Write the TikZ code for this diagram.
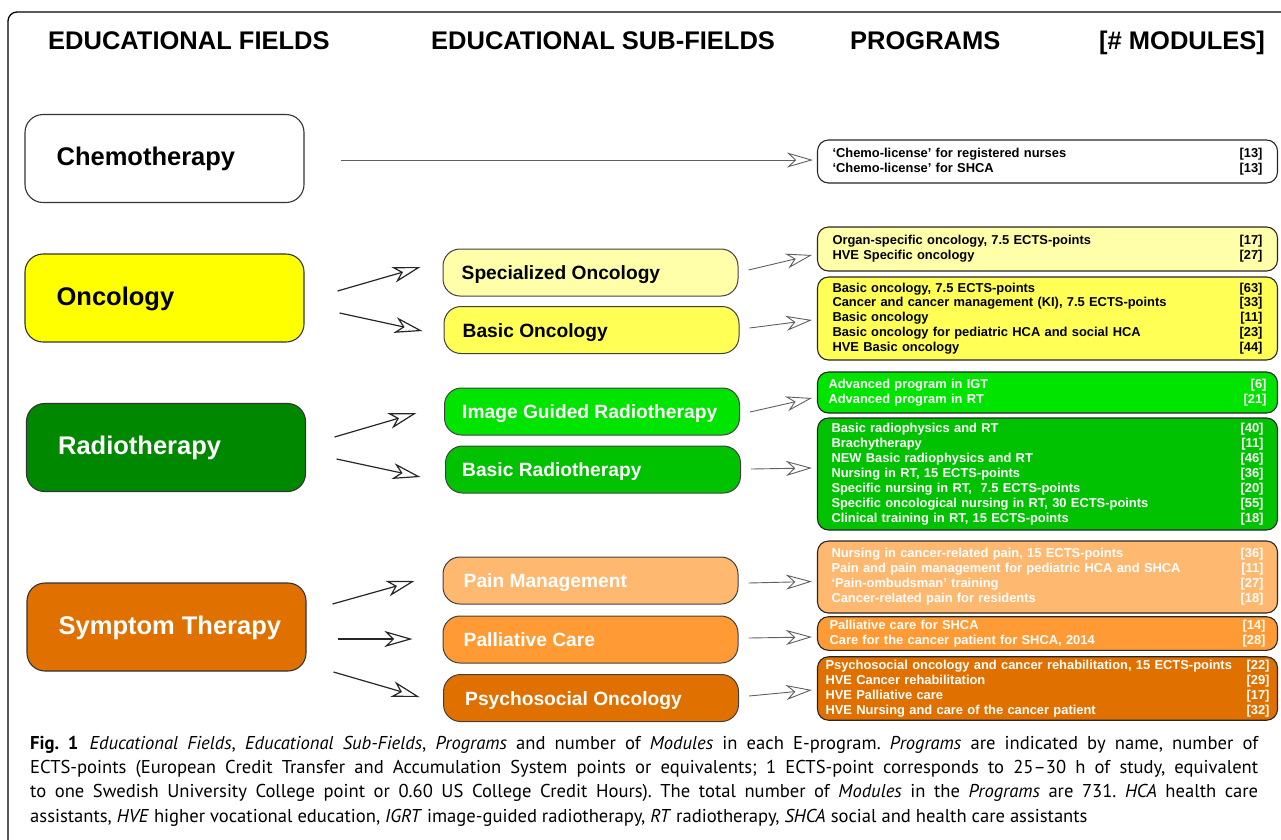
\documentclass[tikz,border=0pt]{standalone}
\usepackage{fontspec}
\setmainfont{Liberation Sans}
\newfontfamily\capfont{PT Sans}
\usetikzlibrary{arrows.meta,positioning}

\definecolor{oncyellow}{RGB}{255,255,0}
\definecolor{oncpale}{RGB}{255,255,170}
\definecolor{oncbasic}{RGB}{255,255,85}
\definecolor{rtdark}{RGB}{0,136,0}
\definecolor{rtbright}{RGB}{0,228,0}
\definecolor{rtbasic}{RGB}{0,194,0}
\definecolor{symorange}{RGB}{224,112,0}
\definecolor{painorange}{RGB}{255,184,112}
\definecolor{palliorange}{RGB}{255,154,52}
\definecolor{arrowgray}{RGB}{95,95,95}

\begin{document}
\begin{tikzpicture}[x=1pt, y=-1pt,
		fieldbox/.style={draw=black!80, line width=1.1pt, rounded corners=18pt, minimum width=279pt, minimum height=88pt},
		fieldtext/.style={anchor=base west, inner sep=0pt, font=\fontsize{25.5}{28}\selectfont\bfseries},
		subbox/.style={draw=black!75, line width=1pt, rounded corners=17pt, minimum width=295pt, minimum height=47pt},
		subtext/.style={anchor=base west, inner sep=0pt, font=\fontsize{19.2}{22}\selectfont\bfseries},
		progbox/.style={draw=black!85, line width=1.1pt, rounded corners=11pt, inner xsep=15pt, text width=430pt, align=left, font=\fontsize{12.9}{14.9}\selectfont\bfseries},
		heading/.style={anchor=base west, inner sep=0pt, font=\fontsize{25.5}{28}\selectfont\bfseries},
		fieldarrow/.style={draw=black!85, line width=1.2pt, -{Stealth[open, length=28pt, width=16pt, inset=8pt]}},
		progarrow/.style={draw=arrowgray, line width=0.9pt, -{Stealth[open, length=26pt, width=15pt, inset=8pt]}}]
		
		\useasboundingbox (0,0) rectangle (1281,839);
		
		% Rahmen der Abbildung
		\draw[line width=1.3pt, rounded corners=9pt] (8,850) -- (8,12) -- (1290,12);
		
		% Spaltenueberschriften
		\node[heading] (h-fields) at (48,49) {EDUCATIONAL FIELDS};
		\node[heading] (h-subfields) at (431,49) {EDUCATIONAL SUB-FIELDS};
		\node[heading] (h-programs) at (850,49) {PROGRAMS};
		\node[heading] (h-modules) at (1099,49) {[\# MODULES]};
		
		% Bildungsfelder (links)
		\node[fieldbox, fill=white] (chemo) at (164.5,158.5) {};
		\node[fieldbox, fill=oncyellow] (onc) at (164.5,298) {};
		\node[fieldbox, fill=rtdark] (rt) at (166,447.5) {};
		\node[fieldbox, fill=symorange] (sym) at (166.5,627) {};
		\node[fieldtext] (chemo-lbl) at ([shift={(32,7)}]chemo.west) {Chemotherapy};
		\node[fieldtext] (onc-lbl) at ([shift={(32,7)}]onc.west) {Oncology};
		\node[fieldtext, text=white] (rt-lbl) at ([shift={(32,7)}]rt.west) {Radiotherapy};
		\node[fieldtext, text=white] (sym-lbl) at ([shift={(32,7)}]sym.west) {Symptom Therapy};
		
		% Teilgebiete (Mitte)
		\node[subbox, fill=oncpale] (spec) at (590.5,272.5) {};
		\node[subbox, fill=oncbasic] (basonc) at (591.5,330) {};
		\node[subbox, fill=rtbright] (igrt) at (592,411.5) {};
		\node[subbox, fill=rtbasic] (basrt) at (593,469.5) {};
		\node[subbox, fill=painorange] (pain) at (590.5,580.5) {};
		\node[subbox, fill=palliorange] (palli) at (590.5,639.5) {};
		\node[subbox, fill=symorange] (psycho) at (591,698) {};
		\node[subtext] (spec-lbl) at ([shift={(19,7)}]spec.west) {Specialized Oncology};
		\node[subtext] (basonc-lbl) at ([shift={(19,7)}]basonc.west) {Basic Oncology};
		\node[subtext, text=white] (igrt-lbl) at ([shift={(18,7)}]igrt.west) {Image Guided Radiotherapy};
		\node[subtext, text=white] (basrt-lbl) at ([shift={(17,7)}]basrt.west) {Basic Radiotherapy};
		\node[subtext, text=white] (pain-lbl) at ([shift={(21,7)}]pain.west) {Pain Management};
		\node[subtext, text=white] (palli-lbl) at ([shift={(21,7)}]palli.west) {Palliative Care};
		\node[subtext, text=white] (psycho-lbl) at ([shift={(22,7)}]psycho.west) {Psychosocial Oncology};
		
		% Programme mit Anzahl Module (rechts)
		\node[progbox, fill=white, minimum height=43pt] (chemo-prog) at (1047.5,161.5)
		{‘Chemo-license’ for registered nurses\hfill[13]\\
			‘Chemo-license’ for SHCA\hfill[13]};
		\node[progbox, fill=oncpale, minimum height=44pt] (spec-prog) at (1047.5,249)
		{Organ-specific oncology, 7.5 ECTS-points\hfill[17]\\
			HVE Specific oncology\hfill[27]};
		\node[progbox, fill=oncbasic, minimum height=83pt] (basonc-prog) at (1047.5,318.5)
		{Basic oncology, 7.5 ECTS-points\hfill[63]\\
			Cancer and cancer management (KI), 7.5 ECTS-points\hfill[33]\\
			Basic oncology\hfill[11]\\
			Basic oncology for pediatric HCA and social HCA\hfill[23]\\
			HVE Basic oncology\hfill[44]};
		\node[progbox, fill=rtbright, text=white, minimum height=41pt, inner xsep=11pt, text width=438pt] (igrt-prog) at (1047.5,392.5)
		{Advanced program in IGT\hfill[6]\\
			Advanced program in RT\hfill[21]};
		\node[progbox, fill=rtbasic, text=white, minimum height=112pt, inner xsep=14pt, text width=432pt] (basrt-prog) at (1047.5,474)
		{Basic radiophysics and RT\hfill[40]\\
			Brachytherapy\hfill[11]\\
			NEW Basic radiophysics and RT\hfill[46]\\
			Nursing in RT, 15 ECTS-points\hfill[36]\\
			Specific nursing in RT, \ 7.5 ECTS-points\hfill[20]\\
			Specific oncological nursing in RT, 30 ECTS-points\hfill[55]\\
			Clinical training in RT, 15 ECTS-points\hfill[18]};
		\node[progbox, fill=painorange, text=white, minimum height=72pt, inner xsep=14pt, text width=432pt] (pain-prog) at (1047.5,577)
		{Nursing in cancer-related pain, 15 ECTS-points\hfill[36]\\
			Pain and pain management for pediatric HCA and SHCA\hfill[11]\\
			‘Pain-ombudsman’ training\hfill[27]\\
			Cancer-related pain for residents\hfill[18]};
		\node[progbox, fill=palliorange, text=white, minimum height=33pt, inner xsep=12pt, text width=436pt] (palli-prog) at (1047.5,633.5)
		{Palliative care for SHCA\hfill[14]\\
			Care for the cancer patient for SHCA, 2014\hfill[28]};
		\node[progbox, fill=symorange, text=white, minimum height=63pt, inner xsep=8pt, text width=444pt] (psycho-prog) at (1047.5,688.5)
		{Psychosocial oncology and cancer rehabilitation, 15 ECTS-points\hfill[22]\\
			HVE Cancer rehabilitation\hfill[29]\\
			HVE Palliative care\hfill[17]\\
			HVE Nursing and care of the cancer patient\hfill[32]};
		
		% Pfeil Chemotherapie direkt zu den Programmen
		\draw[progarrow] ([shift={(36,1.5)}]chemo.east) -- ([shift={(-4,-1.5)}]chemo-prog.west);
		
		% Pfeile Bildungsfeld -> Teilgebiet
		\foreach \von/\nach/\ax/\ay/\bx/\by in {onc/spec/33/-7/-22/-5.5, onc/basonc/35/15/-21/1,
			rt/igrt/28.5/-10.5/-27.5/1.5, rt/basrt/30.5/11.5/-24.5/7.5,
			sym/pain/26/-23/-28/0.5, sym/palli/31/12/-30/-0.5, sym/psycho/27/45/-23.5/-1} {
			\draw[fieldarrow] ([shift={(\ax,\ay)}]\von.east) -- ([shift={(\bx,\by)}]\nach.west);
		}
		
		% Pfeile Teilgebiet -> Programme
		\foreach \von/\ay/\by in {spec/-2.5/6, basonc/-2/1.5, igrt/0.5/5.5, basrt/-0.5/-6,
			pain/2.5/4.5, palli/-1.5/3.5, psycho/-2/1.5} {
			\draw[progarrow] ([shift={(10,\ay)}]\von.east) -- ([shift={(-5,\by)}]\von-prog.west);
		}
		
		% Bildunterschrift
		\node[anchor=north west, inner sep=0pt, text width=1228pt, align=justify,
		font=\capfont\fontsize{18.6}{24.2}\selectfont\frenchspacing] (caption) at (30,736)
		{\textbf{Fig. 1}\hspace{0.6em}\textit{Educational Fields}, \textit{Educational Sub-Fields}, \textit{Programs} and number of \textit{Modules} in each E-program. \textit{Programs} are indicated by name, number of\linebreak
			ECTS-points (European Credit Transfer and Accumulation System points or equivalents; 1 ECTS-point corresponds to 25–30 h of study, equivalent\linebreak
			to one Swedish University College point or 0.60 US College Credit Hours). The total number of \textit{Modules} in the \textit{Programs} are 731. \textit{HCA} health care\linebreak
			assistants, \textit{HVE} higher vocational education, \textit{IGRT} image-guided radiotherapy, \textit{RT} radiotherapy, \textit{SHCA} social and health care assistants};
		
\end{tikzpicture}
\end{document}
